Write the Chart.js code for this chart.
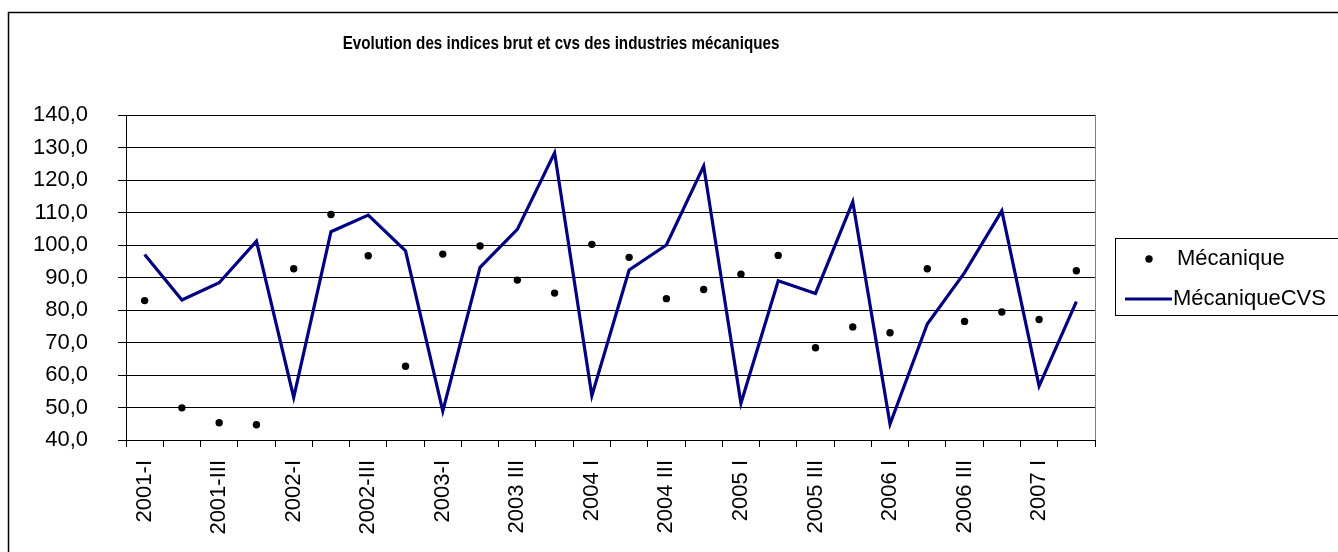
<!DOCTYPE html>
<html>
<head>
<meta charset="utf-8">
<script src="https://cdn.jsdelivr.net/npm/chart.js@4.4.1/dist/chart.umd.min.js"></script>
<style>
  body { margin: 0; background: #fff; }
  canvas { display: block; }
</style>
</head>
<body>
<canvas id="myChart" width="1338" height="552"></canvas>
<script>
const quarters = [
    "2001-I", "2001-II", "2001-III", "2001-IV",
    "2002-I", "2002-II", "2002-III", "2002-IV",
    "2003-I", "2003-II", "2003 III", "2003 IV",
    "2004 I", "2004 II", "2004 III", "2004 IV",
    "2005 I", "2005 II", "2005 III", "2005 IV",
    "2006 I", "2006 II", "2006 III", "2006 IV",
    "2007 I", "2007 II"
];
const mecanique = [82.9, 49.9, 45.3, 44.7, 92.7, 109.4, 96.7, 62.7, 97.2, 99.7, 89.2, 85.2, 100.2,
    96.2, 83.5, 86.3, 91.0, 96.8, 68.4, 74.8, 73.0, 92.7, 76.5, 79.4, 77.1, 92.1];
const mecaniqueCVS = [97.1, 83.1, 88.4, 101.2, 53.1, 104.1, 109.2, 98.2, 48.9, 93.1, 104.8, 128.4, 53.6,
    92.3, 100.0, 124.3, 51.3, 89.0, 85.1, 113.3, 44.9, 75.7, 91.5, 110.5, 56.6, 82.6];
const yMin = 40, yMax = 140, yStep = 10;
const chartTitle = "Evolution des indices brut et cvs des industries mécaniques";

Chart.defaults.font.family = "'Liberation Sans', Arial, sans-serif";
Chart.defaults.color = "#000";

// outer frame, grey plot border, narrow bold title and the boxed legend
const excelLook = {
    id: "excelLook",
    beforeDraw(chart) {
        const ctx = chart.ctx, a = chart.chartArea;
        ctx.save();
        ctx.strokeStyle = "#000";
        ctx.lineWidth = 1.5;
        ctx.strokeRect(8.5, 12.5, 1340, 560);
        ctx.strokeStyle = "#808080";
        ctx.lineWidth = 1;
        ctx.strokeRect(a.left + 0.5, a.top + 0.5, a.right - a.left, a.bottom - a.top);

        // title is an Arial Narrow look: squeeze a bold sans horizontally
        ctx.fillStyle = "#000";
        ctx.font = "bold 19px 'Liberation Sans', Arial, sans-serif";
        ctx.textAlign = "center";
        ctx.textBaseline = "middle";
        ctx.translate(561, 44);
        ctx.scale(0.8, 1);
        ctx.fillText(chartTitle, 0, 0);
        ctx.restore();
    },
    afterDraw(chart) {
        const ctx = chart.ctx;
        ctx.save();
        ctx.strokeStyle = "#000";
        ctx.lineWidth = 1;
        ctx.strokeRect(1115.5, 238.5, 240, 77);
        ctx.fillStyle = "#000";
        ctx.beginPath();
        ctx.arc(1149, 259, 3.7, 0, Math.PI * 2);
        ctx.fill();
        ctx.strokeStyle = "#000080";
        ctx.lineWidth = 3;
        ctx.beginPath();
        ctx.moveTo(1125, 299);
        ctx.lineTo(1172, 299);
        ctx.stroke();
        ctx.font = "22px 'Liberation Sans', Arial, sans-serif";
        ctx.textBaseline = "middle";
        ctx.fillText("Mécanique", 1177, 259);
        ctx.fillText("MécaniqueCVS", 1173, 299);
        ctx.restore();
    }
};

new Chart(document.getElementById("myChart"), {
    type: "line",
    data: {
        labels: quarters,
        datasets: [
            {
                label: "Mécanique",
                data: mecanique,
                showLine: false,
                pointRadius: 3.7,
                pointBackgroundColor: "#000",
                pointBorderWidth: 0
            },
            {
                label: "MécaniqueCVS",
                data: mecaniqueCVS,
                borderColor: "#000080",
                borderWidth: 3.2,
                pointRadius: 0,
                fill: false
            }
        ]
    },
    options: {
        animation: false,
        responsive: false,
        layout: { padding: { left: 28, right: 243, top: 115, bottom: 0 } },
        plugins: {
            legend: { display: false },
            tooltip: { enabled: false },
            title: { display: false }
        },
        scales: {
            x: {
                offset: true,
                grid: { offset: true, drawOnChartArea: false, tickLength: 7, color: "#000" },
                border: { color: "#000" },
                ticks: {
                    autoSkip: false,
                    minRotation: 90,
                    maxRotation: 90,
                    padding: 13,
                    font: { size: 22 },
                    callback: (v, i) => i % 2 === 0 ? quarters[i] : ""
                },
                afterFit: s => { s.height = 112; }
            },
            y: {
                min: yMin,
                max: yMax,
                grid: { color: "#000", tickLength: 8 },
                border: { color: "#000" },
                ticks: {
                    stepSize: yStep,
                    padding: 30,
                    font: { size: 22 },
                    callback: v => v.toFixed(1).replace(".", ",")
                },
                afterFit: s => { s.width = 98; }
            }
        }
    },
    plugins: [excelLook]
});
</script>
</body>
</html>
